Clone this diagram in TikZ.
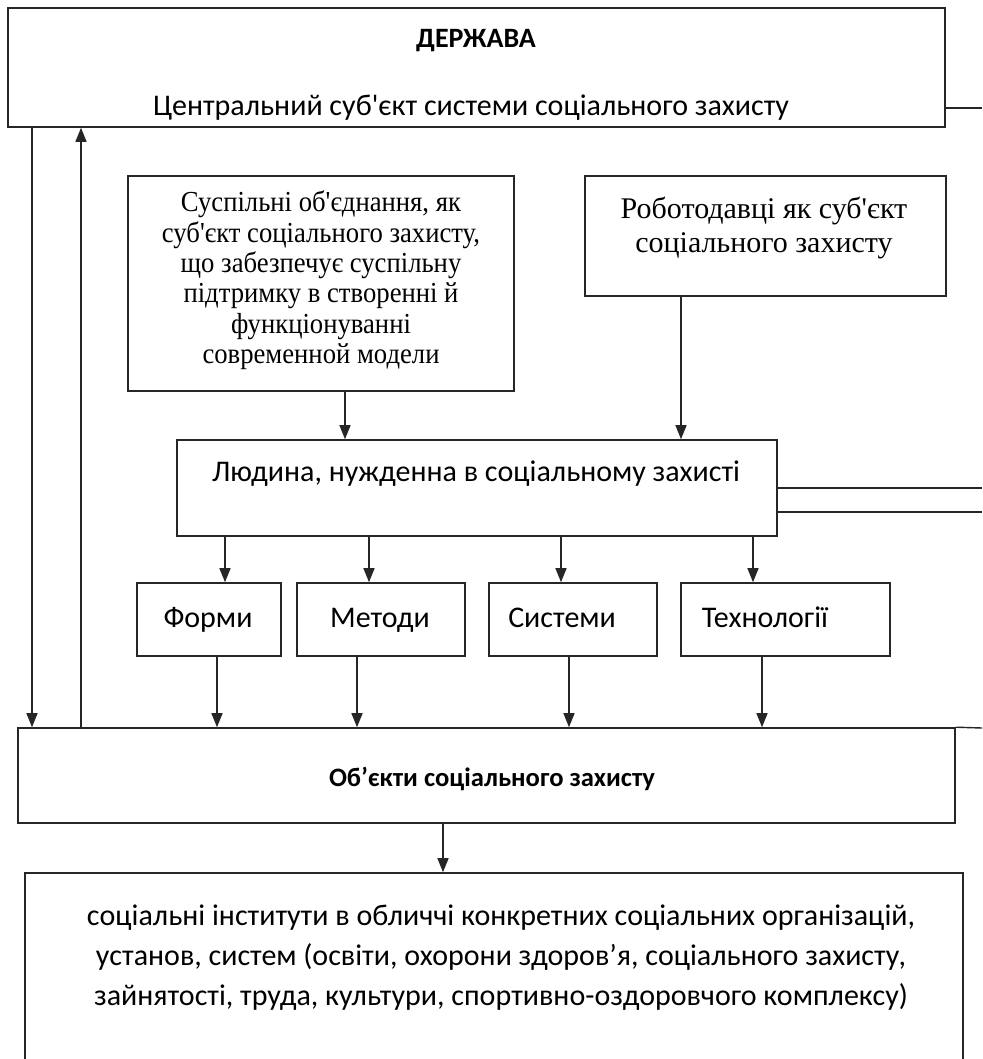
\documentclass[tikz,border=0pt]{standalone}
\usepackage{fontspec}
\newfontfamily\serifont{Liberation Serif}
\newfontfamily\serifnarrow{Liberation Serif}[FakeStretch=0.92]
\newfontfamily\carlitofont{Carlito}
\usetikzlibrary{arrows.meta}
\begin{document}
\begin{tikzpicture}[x=1pt,y=-1pt,
  box/.style={draw=black!85, line width=1.6pt, rectangle, inner sep=0pt},
  conn/.style={draw=black!85, line width=1.4pt},
  arr/.style={conn, -{Triangle[width=11pt,length=14pt]}},
  sans/.style={font=\carlitofont\fontsize{30}{36}\selectfont, anchor=base, inner sep=0pt},
  sansb/.style={font=\carlitofont\bfseries\fontsize{28}{34}\selectfont, anchor=base, inner sep=0pt},
  serif/.style={font=\serifnarrow\fontsize{29}{30}\selectfont, anchor=base, inner sep=0pt},
  serifl/.style={font=\serifont\fontsize{30}{34}\selectfont, anchor=base, inner sep=0pt}]
\clip (0,0) rectangle (982,1059);
\fill[white] (0,0) rectangle (982,1059);
% boxes
\node[box, minimum width=937pt, minimum height=119pt] (top) at (476.5,67.5) {};
\node[box, minimum width=386pt, minimum height=215pt] (sus) at (321,283.5) {};
\node[box, minimum width=361pt, minimum height=120pt] (rob) at (765.5,236) {};
\node[box, minimum width=600pt, minimum height=96pt] (lud) at (477,488) {};
\node[box, minimum width=144pt, minimum height=73pt] (form) at (209,619.5) {};
\node[box, minimum width=168pt, minimum height=73pt] (met) at (381,619.5) {};
\node[box, minimum width=168pt, minimum height=73pt] (sys) at (573,619.5) {};
\node[box, minimum width=209pt, minimum height=73pt] (tech) at (785.5,619.5) {};
\node[box, minimum width=937pt, minimum height=95pt] (obj) at (486.5,775.5) {};
\node[box, minimum width=938pt, minimum height=200pt] (inst) at (494,973) {};
% texts
\node[sansb] (t1) at (476,48) {ДЕРЖАВА};
\node[sans] (t2) at (471,116) {Центральний суб'єкт системи соціального захисту};
\node[serif] (s1) at (321,212) {Суспільні об'єднання, як};
\node[serif] (s2) at (321,242.3) {суб'єкт соціального захисту,};
\node[serif] (s3) at (321,272.6) {що забезпечує суспільну};
\node[serif] (s4) at (321,302.9) {підтримку в створенні й};
\node[serif] (s5) at (321,333.2) {функціонуванні};
\node[serif] (s6) at (321,363.5) {современной модели};
\node[serifl] (r1) at (764,219) {Роботодавці як суб'єкт};
\node[serifl] (r2) at (764,252) {соціального захисту};
\node[sans] (l1) at (476,481) {Людина, нужденна в соціальному захисті};
\node[sans] (f1) at (208,627) {Форми};
\node[sans] (m1) at (380,627) {Методи};
\node[sans] (y1) at (562,627) {Системи};
\node[sans] (h1) at (765,627) {Технології};
\node[sansb, font=\carlitofont\bfseries\fontsize{26.6}{32}\selectfont] (o1) at (492,786) {Об’єкти соціального захисту};
\node[sans] (i1) at (501,925) {соціальні інститути в обличчі конкретних соціальних організацій,};
\node[sans] (i2) at (501,965) {установ, систем (освіти, охорони здоров’я, соціального захисту,};
\node[sans] (i3) at (501,1005) {зайнятості, труда, культури, спортивно-оздоровчого комплексу)};
% free ends
\coordinate (e1) at (982,108);
\coordinate (e2) at (982,488);
\coordinate (e3) at (982,512);
\coordinate (e4) at (982,728);
% connectors
\draw[arr] (top.south -| 32,0) -- (obj.north -| 32,0);
\draw[arr] (obj.north -| 81,0) -- (top.south -| 81,0);
\draw[conn] (top.east |- e1) -- (e1);
\draw[arr] (sus.south -| 345,0) -- (lud.north -| 345,0);
\draw[arr] (rob.south -| 681,0) -- (lud.north -| 681,0);
\draw[conn] (lud.east |- e2) -- (e2);
\draw[conn] (lud.east |- e3) -- (e3);
\draw[arr] (lud.south -| 225,0) -- (form.north -| 225,0);
\draw[arr] (lud.south -| 369,0) -- (met.north -| 369,0);
\draw[arr] (lud.south -| 561,0) -- (sys.north -| 561,0);
\draw[arr] (lud.south -| 753,0) -- (tech.north -| 753,0);
\draw[arr] (form.south -| 217,0) -- (obj.north -| 217,0);
\draw[arr] (met.south -| 357,0) -- (obj.north -| 357,0);
\draw[arr] (sys.south -| 569,0) -- (obj.north -| 569,0);
\draw[arr] (tech.south -| 762,0) -- (obj.north -| 762,0);
\draw[conn] (obj.north east) -- (e4);
\draw[arr] (obj.south -| 443,0) -- (inst.north -| 443,0);
\end{tikzpicture}
\end{document}
